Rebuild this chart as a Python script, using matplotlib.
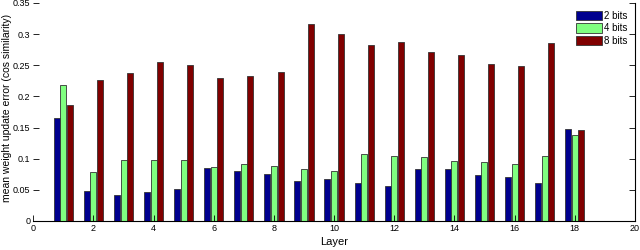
import matplotlib
import numpy as np

matplotlib.use("Agg")
import matplotlib.pyplot as plt

layers = list(range(1, 19))
bits_2 = [0.165, 0.048, 0.042, 0.047, 0.052, 0.085, 0.080, 0.076, 0.064,
          0.068, 0.061, 0.056, 0.083, 0.083, 0.074, 0.070, 0.061, 0.148]
bits_4 = [0.219, 0.079, 0.098, 0.098, 0.098, 0.087, 0.091, 0.089, 0.083,
          0.081, 0.107, 0.105, 0.103, 0.097, 0.095, 0.091, 0.105, 0.138]
bits_8 = [0.187, 0.227, 0.237, 0.255, 0.250, 0.229, 0.233, 0.239, 0.317,
          0.300, 0.282, 0.288, 0.272, 0.267, 0.252, 0.249, 0.285, 0.146]
series_labels = ["2 bits", "4 bits", "8 bits"]
x_ticks = list(range(0, 21, 2))
y_ticks = [0, 0.05, 0.1, 0.15, 0.2, 0.25, 0.3, 0.35]
y_tick_labels = ["0", "0.05", "0.1", "0.15", "0.2", "0.25", "0.3", "0.35"]

plt.rcParams["font.family"] = ["Liberation Sans", "DejaVu Sans"]

fig = plt.figure(figsize=(6.4, 2.5), dpi=100)
ax = fig.add_axes([0.052, 0.116, 0.940, 0.872])

colors = ["#00008F", "#80FF80", "#800000"]
offsets = [-0.22, 0.0, 0.22]
x = np.array(layers, dtype=float)
for vals, off, color, label in zip([bits_2, bits_4, bits_8], offsets, colors, series_labels):
    ax.bar(x + off, vals, width=0.2, color=color, edgecolor="#333333",
           linewidth=0.6, label=label)

ax.set_xlim(0, 20)
ax.set_ylim(0, 0.35)
ax.set_xticks(x_ticks)
ax.set_yticks(y_ticks)
ax.set_yticklabels(y_tick_labels)
ax.tick_params(direction="in", labelsize=6.5, length=4, width=0.6, right=True, pad=2)
ax.spines["top"].set_visible(False)
ax.spines["left"].set_visible(False)
for side in ["bottom", "right"]:
    ax.spines[side].set_linewidth(0.8)
ax.set_xlabel("Layer", fontsize=8, labelpad=3)
ax.set_ylabel("mean weight update error (cos similarity)", fontsize=7.5)
ax.yaxis.set_label_coords(-0.036, 0.52)

ax.legend(loc="upper right", bbox_to_anchor=(0.998, 0.99), frameon=False, fontsize=7,
          handlelength=2.6, handleheight=1.1, handletextpad=0.3, labelspacing=0.25,
          borderaxespad=0.2)

fig.savefig("out.png", dpi=100)
